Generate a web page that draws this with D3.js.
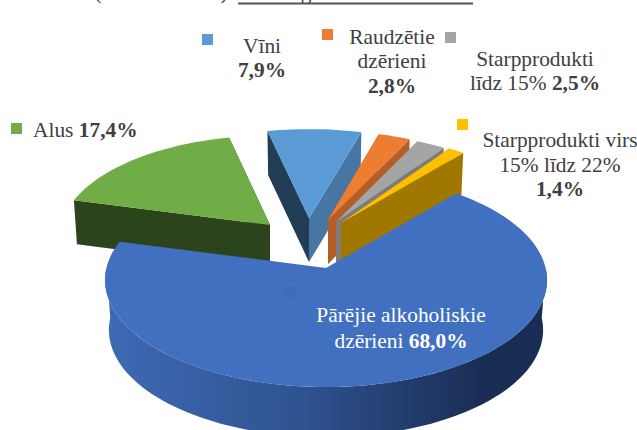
<!DOCTYPE html>
<html>
<head>
<meta charset="utf-8">
<script src="https://cdn.jsdelivr.net/npm/d3@7"></script>
<style>
  html, body { margin: 0; padding: 0; background: #fff; overflow: hidden; }
  svg { display: block; }
  text { font-family: "Liberation Serif", serif; font-size: 21.4px; fill: #404040; }
</style>
</head>
<body>
<div id="vis"></div>
<script>
// chart data
var categories = ["Pārējie alkoholiskie dzērieni", "Alus", "Vīni", "Raudzētie dzērieni", "Starpprodukti līdz 15%", "Starpprodukti virs 15% līdz 22%"];
var values = [68.0, 17.4, 7.9, 2.8, 2.5, 1.4];
var valueLabels = ["68,0%", "17,4%", "7,9%", "2,8%", "2,5%", "1,4%"];

// slice styling, same order as categories
var topColors = ["#4270c1", "#70ad47", "#5b9bd5", "#ed7d31", "#a5a5a5", "#ffc000"];
var leftWall = ["#2f5597", "#2c441c", "#223e56", "#b25e24", "#7c7c7c", "#a07800"];
var rightWall = ["#2f5597", "#2c441c", "#4776a3", "#b25e24", "#7c7c7c", "#a07800"];
var keyColors = ["#3e6bbb", "#70ad47", "#5b9bd5", "#ed7d31", "#a5a5a5", "#ffc000"];

// explosion of each slice on screen
var offsetX = [0, -56, -17, 2, 10, 15];
var offsetY = [0, -43, -50, -48, -46, -45];
var scaleRx = [1, 0.95, 0.965, 0.935, 0.935, 0.94];
var scaleRy = [1, 0.94, 0.935, 0.935, 0.935, 0.94];
var depth = [50, 44, 44, 44, 43, 43];

var width = 637, height = 430;
var cx = 326, cy = 268;      // centre of the big slice
var rx = 219.6, ry = 105.7;
var persp = 0.112;

var svg = d3.select("#vis").append("svg")
  .attr("width", width)
  .attr("height", height);

var defs = svg.append("defs");
var rimGrad = defs.append("linearGradient").attr("id", "rimGrad");
rimGrad.append("stop").attr("offset", "0%").attr("stop-color", "#3f6ab5");
rimGrad.append("stop").attr("offset", "45%").attr("stop-color", "#2f5290");
rimGrad.append("stop").attr("offset", "85%").attr("stop-color", "#1a2d54");
rimGrad.append("stop").attr("offset", "100%").attr("stop-color", "#1a2d54");

var toRad = Math.PI / 180;
var pie = d3.pie().sort(null)
  .startAngle(40 * toRad)
  .endAngle(400 * toRad);
var slices = pie(values);

var line = d3.line();

// angle is clockwise from the top, z is how far down the side wall
function project(i, angle, r, z) {
  var X = Math.sin(angle) * r, Y = -Math.cos(angle) * r;
  var w = 1 - persp * Y;
  var k = scaleRx[i] * (1 - 0.00035 * z);
  return [
    cx + offsetX[i] + rx * X / w * k,
    cy + offsetY[i] + ry * Y / w * scaleRy[i] + z
  ];
}

function arcPoints(i, a0, a1, z) {
  var n = Math.max(2, Math.ceil((a1 - a0) / (2 * toRad)));
  return d3.range(n + 1).map(function(j) {
    return project(i, a0 + (a1 - a0) * j / n, 1, z);
  });
}

function wall(i, angle) {
  var d = depth[i];
  return line([project(i, angle, 0, 0), project(i, angle, 1, 0), project(i, angle, 1, d), project(i, angle, 0, d)]) + "Z";
}

// back slices first, big slice last so it covers their walls
[2, 1, 3, 4, 5, 0].forEach(function(i) {
  var s = slices[i];
  var g = svg.append("g").attr("class", "slice");
  if (i === 0) {
    // front rim, only the part that faces us
    var a0 = 90 * toRad, a1 = 270 * toRad;
    var rim = arcPoints(i, a0, a1, 0).concat(arcPoints(i, a0, a1, depth[i]).reverse());
    g.append("path").attr("d", line(rim) + "Z").attr("fill", "url(#rimGrad)");
  } else {
    g.append("path").attr("d", wall(i, s.startAngle)).attr("fill", leftWall[i]);
    g.append("path").attr("d", wall(i, s.endAngle)).attr("fill", rightWall[i]);
  }
  var top = [project(i, 0, 0, 0)].concat(arcPoints(i, s.startAngle, s.endAngle, 0));
  g.append("path").attr("d", line(top) + "Z").attr("fill", topColors[i]);
});

// legend keys
var keyX = [285, 11, 202, 322, 445, 457];
var keyY = [287, 123, 34, 29, 32, 119];
svg.selectAll("rect.key")
  .data(keyColors)
  .enter()
  .append("rect")
  .attr("class", "key")
  .attr("x", function(d, i) { return keyX[i]; })
  .attr("y", function(d, i) { return keyY[i]; })
  .attr("width", 11)
  .attr("height", 11)
  .attr("fill", function(d) { return d; });

function label(x, y, plain, bold, anchor, color) {
  var t = svg.append("text")
    .attr("x", x)
    .attr("y", y)
    .attr("text-anchor", anchor || "middle")
    .style("fill", color || "#404040");
  t.append("tspan").text(plain);
  if (bold) t.append("tspan").attr("font-weight", "bold").text((plain ? " " : "") + bold);
}

label(262, 53, "Vīni");
label(262, 77, "", valueLabels[2]);
label(392, 44, "Raudzētie");
label(392, 68, "dzērieni");
label(392, 93, "", valueLabels[3]);
label(535, 66, "Starpprodukti");
label(535, 90, "līdz 15%", valueLabels[4]);
label(33, 137, "Alus", valueLabels[1], "start");
label(560, 147, "Starpprodukti virs");
label(560, 172, "15% līdz 22%");
label(560, 196, "", valueLabels[5]);
label(401, 322, "Pārējie alkoholiskie", null, "middle", "#fff");
label(401, 348, "dzērieni", valueLabels[0], "middle", "#fff");

// what is left of the title, cut off by the top of the picture
label(98, -1, "(");
label(224, -1, ")");
label(306, -1, "g");
svg.append("line")
  .attr("x1", 238)
  .attr("x2", 473)
  .attr("y1", 3.5)
  .attr("y2", 3.5)
  .attr("stroke", "#555")
  .attr("stroke-width", 2);
</script>
</body>
</html>
